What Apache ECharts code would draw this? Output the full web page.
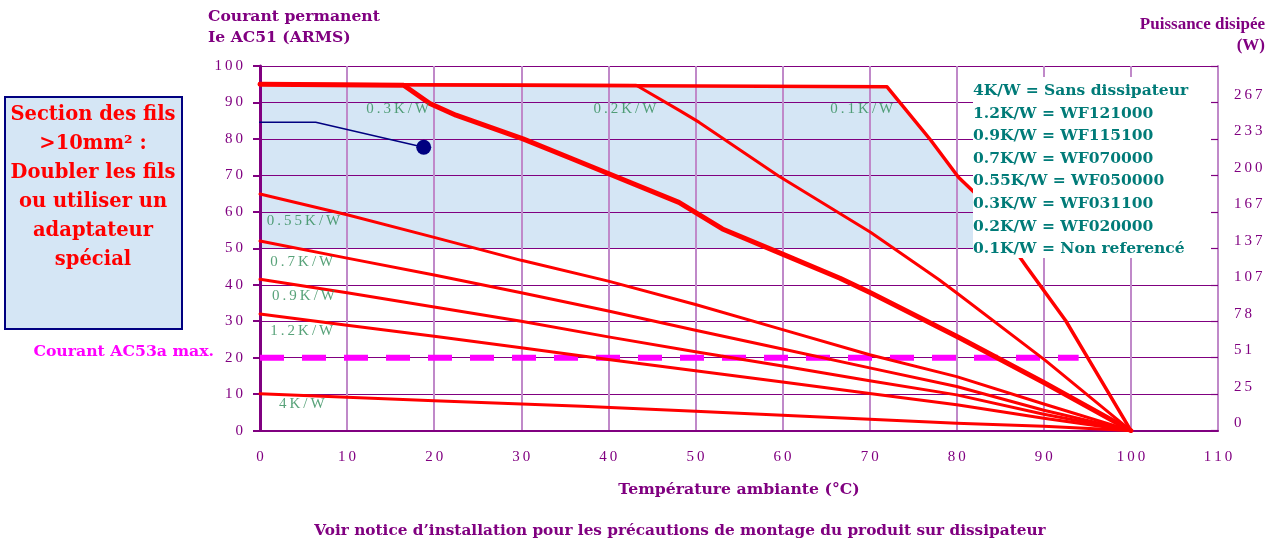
<!DOCTYPE html>
<html><head><meta charset="utf-8">
<script src="https://cdn.jsdelivr.net/npm/echarts@6/dist/echarts.min.js"></script>
<style>html,body{margin:0;padding:0;background:#fff}#c{width:1275px;height:544px}</style>
</head><body><div id="c"></div>
<script>
// ---- data ----
const xTickValues = [0,10,20,30,40,50,60,70,80,90,100,110];
const yLeftTicks = [0,10,20,30,40,50,60,70,80,90,100];
const yRightLabels = ['0','25','51','78','107','137','167','200','233','267',''];
const curve_01  = [[0,95],[72,94.3],[77,79.7],[80.2,69.5],[82,65.4],[88,45.0],[92.5,30.2],[95.2,19.3],[100,0]];
const curve_02  = [[0,95],[43.2,94.7],[48.1,87.9],[50.4,84.6],[59.5,69.9],[70.1,54.4],[77.9,41.5],[80.2,37.4],[90.1,19.4],[100,0]];
const curve_03  = [[0,95],[16.5,94.7],[19.5,89.7],[22.5,86.5],[30.2,80.0],[35.9,74.5],[48.1,62.6],[53.1,55.3],[60,48.4],[66.6,41.8],[70.1,37.8],[80.2,25.6],[90,13.2],[100,0]];
const curve_055 = [[0,64.9],[10,59.2],[20,53.0],[30,46.7],[40,41.0],[50,34.6],[60,27.7],[70,20.8],[80,14.8],[90,7.3],[100,0]];
const curve_07  = [[0,52.0],[10,47.3],[20,42.7],[30,37.8],[40,32.8],[50,27.5],[60,22.4],[70,17.2],[80,12.1],[90,5.6],[100,0]];
const curve_09  = [[0,41.5],[10,37.8],[20,33.9],[30,30.0],[40,25.7],[50,21.6],[60,17.7],[70,13.7],[80,9.8],[90,4.5],[100,0]];
const curve_12  = [[0,32.0],[10,28.9],[20,25.9],[30,22.7],[40,19.5],[50,16.4],[60,13.3],[70,10.2],[80,7.1],[90,3.4],[100,0]];
const curve_4   = [[0,10.1],[20,8.2],[37,6.7],[50,5.3],[60,4.2],[70,3.1],[80,2.0],[90,1.2],[100,0]];
const ac53Max   = [[0,20],[94,20]];
const zoneBase  = 50;                 // lower edge of shaded zone
const zoneEndX  = 82;                 // shaded zone hidden beyond legend box
const pointer   = [[-7.4,84.6],[6.4,84.6],[18.8,77.7]];
const curveNames = ['0.3K/W','0.2K/W','0.1K/W','0.55K/W','0.7K/W','0.9K/W','1.2K/W','4K/W'];
const legendLines = ['4K/W = Sans dissipateur','1.2K/W = WF121000','0.9K/W = WF115100','0.7K/W = WF070000','0.55K/W = WF050000','0.3K/W = WF031100','0.2K/W = WF020000','0.1K/W = Non referencé'];
const boxLines = ['Section des fils','>10mm² :','Doubler les fils','ou utiliser un','adaptateur','spécial'];

// ---- layout (positions of curve labels, in data units) ----
const labelPos = [[15.8,88.3],[41.9,88.3],[69.1,88.3],[5.0,57.5],[4.8,46.2],[5.0,36.8],[4.8,27.4],[4.8,7.3]];

const PURPLE = '#800080', LPURPLE = '#c089c9', RED = '#ff0000', TEAL = '#007b78', GREEN = '#2e8b57';
const sp = s => String(s).split('').join('\u2009');
const serif = 'DejaVu Serif';
const tserif = 'Liberation Serif';

const chart = echarts.init(document.getElementById('c'));
function line(data, w, extra) {
  return Object.assign({type:'line', data, showSymbol:false, symbol:'none', smooth:false, z:3,
    lineStyle:{color:RED, width:w, join:'round', cap:'round'}, silent:true}, extra||{});
}
const shadeData = curve_01.filter(p => p[0] <= zoneEndX);

const legendGraphics = legendLines.map((t,i)=>({type:'text', z:110,
  style:{text:t, x:973, y:91 + i*22.6, verticalAlign:'middle', fill:TEAL, font:'bold 15.5px "'+serif+'"'}}));
const boxGraphics = boxLines.map((t,i)=>({type:'text', z:110,
  style:{text:t, x:93, y:115 + i*29, align:'center', verticalAlign:'middle', fill:RED, font:'bold 19.5px "'+serif+'"'}}));

chart.setOption({
  animation:false,
  grid:{left:260, right:57, top:66, bottom:113.4, containLabel:false},
  xAxis:{type:'value', min:0, max:110, interval:10,
    axisLine:{show:true, lineStyle:{color:PURPLE, width:2}}, axisTick:{show:false},
    axisLabel:{color:PURPLE, margin:19, fontFamily:tserif, fontSize:15, formatter:v=>sp(v)},
    splitLine:{show:true, lineStyle:{color:LPURPLE, width:2}},
    name:'Température ambiante (°C)', nameLocation:'middle', nameGap:51,
    nameTextStyle:{color:PURPLE, fontFamily:serif, fontWeight:'bold', fontSize:15.7}},
  yAxis:[
    {type:'value', min:0, max:100, interval:10, position:'left',
     axisLine:{show:true, lineStyle:{color:PURPLE, width:3}},
     axisTick:{show:true, length:7, lineStyle:{color:PURPLE, width:2}},
     axisLabel:{color:PURPLE, margin:17, fontFamily:tserif, fontSize:15, formatter:v=>sp(v)},
     splitLine:{show:true, lineStyle:{color:PURPLE, width:1.2}}},
    {type:'value', min:0, max:100, interval:10, position:'right',
     axisLine:{show:true, lineStyle:{color:LPURPLE, width:2}},
     axisTick:{show:true, inside:true, length:7, lineStyle:{color:PURPLE, width:1.2}},
     axisLabel:{color:PURPLE, margin:16, fontFamily:tserif, fontSize:15, verticalAlign:'bottom',
       formatter:(v)=>sp(yRightLabels[Math.round(v/10)])},
     splitLine:{show:false}}
  ],
  series:[
    {type:'line', data:shadeData, showSymbol:false, symbol:'none', z:-1, silent:true,
     lineStyle:{width:0, opacity:0}, areaStyle:{origin:zoneBase, color:'#d5e6f5', opacity:1}},
    line(ac53Max, 6, {z:2, lineStyle:{color:'#ff00ff', width:6, type:[24,18], cap:'butt'}}),
    line(curve_4, 3), line(curve_12, 3), line(curve_09, 3), line(curve_07, 3), line(curve_055, 3),
    line(curve_02, 3), line(curve_01, 3.5), line(curve_03, 5),
    {type:'line', data:pointer, clip:false, z:4, silent:true,
     showSymbol:true, symbol:'circle', symbolSize:(v,p)=>p.dataIndex===2?15:0,
     itemStyle:{color:'#000080'}, lineStyle:{color:'#000080', width:1.5}},
    {type:'scatter', data:labelPos.map((p,i)=>[p[0],p[1],curveNames[i]]), symbolSize:0, z:5, silent:true,
     label:{show:true, position:'inside', color:GREEN, fontFamily:tserif, fontSize:15,
       formatter:p=>sp(p.data[2])}}
  ],
  graphic:[
    {type:'rect', z:100, shape:{x:973, y:77, width:238, height:181}, style:{fill:'#ffffff'}},
    ...legendGraphics,
    {type:'rect', z:100, shape:{x:5, y:97, width:177, height:232}, style:{fill:'#d5e6f5', stroke:'#000080', lineWidth:2}},
    ...boxGraphics,
    {type:'text', z:110, style:{text:'Courant permanent', x:208, y:17, verticalAlign:'middle', fill:PURPLE, font:'bold 15.6px "'+serif+'"'}},
    {type:'text', z:110, style:{text:'Ie AC51 (ARMS)', x:208, y:38, verticalAlign:'middle', fill:PURPLE, font:'bold 15.6px "'+serif+'"'}},
    {type:'text', z:110, style:{text:'Puissance disipée', x:1265, y:25, align:'right', verticalAlign:'middle', fill:PURPLE, font:'bold 17px "'+tserif+'"'}},
    {type:'text', z:110, style:{text:'(W)', x:1265, y:46, align:'right', verticalAlign:'middle', fill:PURPLE, font:'bold 17px "'+tserif+'"'}},
    {type:'text', z:110, style:{text:'Courant AC53a max.', x:214, y:352, align:'right', verticalAlign:'middle', fill:'#ff00ff', font:'bold 15.7px "'+serif+'"'}},
    {type:'text', z:110, style:{text:'Voir notice d\u2019installation pour les précautions de montage du produit sur dissipateur', x:680, y:531, align:'center', verticalAlign:'middle', fill:PURPLE, font:'bold 15.3px "'+serif+'"'}}
  ]
});
</script></body></html>
